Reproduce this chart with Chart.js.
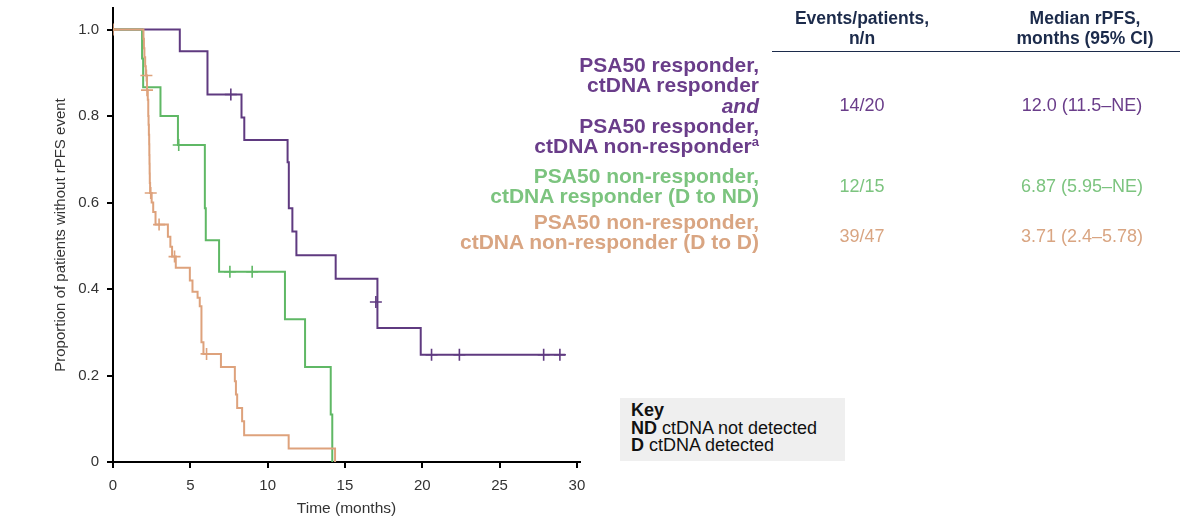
<!DOCTYPE html>
<html>
<head>
<meta charset="utf-8">
<script src="https://cdn.jsdelivr.net/npm/chart.js@4/dist/chart.umd.min.js"></script>
<style>
  html, body { margin: 0; padding: 0; background: #fff; }
  #wrap { position: relative; width: 1200px; height: 520px; overflow: hidden; font-family: "Liberation Sans", Arial, sans-serif; }
  #c { position: absolute; left: 0; top: 0; }
  .abs { position: absolute; white-space: nowrap; }
  .lab { right: 441px; text-align: right; font-weight: bold; font-size: 21px; line-height: 20.3px; }
  .hdr { font-weight: bold; font-size: 17.5px; line-height: 20px; color: #1c2b4b; text-align: center; transform: translateX(-50%); }
  .val { font-size: 18px; line-height: 20px; text-align: center; transform: translate(-50%, -50%); }
  .purple { color: #6a3d8a; }
  .green { color: #7cc47f; }
  .orange { color: #d9a582; }
  #key { left: 620px; top: 398px; width: 214px; height: 59px; background: #efefef; padding: 4px 0 0 11px; font-size: 18px; line-height: 17.5px; color: #111; }
</style>
</head>
<body>
<div id="wrap">
  <canvas id="c" width="1200" height="520"></canvas>

  <div class="abs hdr" style="left:862px; top:8px;">Events/patients,<br>n/n</div>
  <div class="abs hdr" style="left:1085px; top:8px;">Median rPFS,<br>months (95% CI)</div>
  <div class="abs" style="left:772px; top:51px; width:408px; height:0; border-top:1.5px solid #1c2b4b;"></div>

  <div class="abs lab purple" style="top:55px;">PSA50 responder,<br>ctDNA responder<br><i>and</i><br>PSA50 responder,<br>ctDNA non-responder<sup style="font-size:13px; vertical-align: 7px; line-height:0;">a</sup></div>
  <div class="abs lab green" style="top:166px;">PSA50 non-responder,<br>ctDNA responder (D to ND)</div>
  <div class="abs lab orange" style="top:212px;">PSA50 non-responder,<br>ctDNA non-responder (D to D)</div>

  <div class="abs val purple" style="left:862px; top:105px;">14/20</div>
  <div class="abs val purple" style="left:1082px; top:105px;">12.0 (11.5–NE)</div>
  <div class="abs val green" style="left:862px; top:186px;">12/15</div>
  <div class="abs val green" style="left:1082px; top:186px;">6.87 (5.95–NE)</div>
  <div class="abs val orange" style="left:862px; top:236px;">39/47</div>
  <div class="abs val orange" style="left:1082px; top:236px;">3.71 (2.4–5.78)</div>

  <div id="key" class="abs"><b>Key</b><br><b>ND</b> ctDNA not detected<br><b>D</b> ctDNA detected</div>
</div>
<script>
// ---- Data (Kaplan–Meier step curves) ----
const xTicks = [0, 5, 10, 15, 20, 25, 30];
const yTicks = [0, 0.2, 0.4, 0.6, 0.8, 1.0];

// Purple: PSA50 responder (ctDNA responder and non-responder)
const purpleTimes = [0, 4.32, 6.11, 8.31, 8.49, 11.29, 11.37, 11.6, 11.86, 14.4, 17.1, 19.9, 29.25];
const purpleSurv  = [1.0, 0.95, 0.85, 0.797, 0.745, 0.693, 0.587, 0.533, 0.478, 0.424, 0.31, 0.248, 0.248];
const purpleCensorTimes = [7.62, 17.0, 20.6, 22.4, 27.85, 28.9];
const purpleCensorSurv  = [0.85, 0.37, 0.248, 0.248, 0.248, 0.248];

// Green: PSA50 non-responder, ctDNA responder (D to ND)
const greenTimes = [0, 1.88, 1.95, 3.07, 4.2, 5.94, 6.0, 6.86, 11.12, 12.42, 14.08, 14.18];
const greenSurv  = [1.0, 0.933, 0.867, 0.8, 0.733, 0.587, 0.513, 0.44, 0.33, 0.22, 0.11, 0];
const greenCensorTimes = [4.25, 7.56, 9.0];
const greenCensorSurv  = [0.733, 0.44, 0.44];

// Orange: PSA50 non-responder, ctDNA non-responder (D to D)
const orangeTimes = [0, 1.97, 2.0, 2.03, 2.08, 2.12, 2.2, 2.25, 2.28, 2.3, 2.32, 2.34, 2.35, 2.36, 2.37, 2.38, 2.4, 2.5, 2.6, 2.75, 3.55, 3.71, 3.82, 4.06, 4.97, 5.14, 5.47, 5.61, 5.72, 5.85, 6.98, 7.88, 7.95, 8.03, 8.35, 8.48, 11.36, 14.36];
const orangeSurv  = [1.0, 0.979, 0.957, 0.936, 0.915, 0.894, 0.86, 0.838, 0.8, 0.78, 0.757, 0.735, 0.71, 0.69, 0.667, 0.645, 0.622, 0.6, 0.578, 0.549, 0.521, 0.498, 0.475, 0.449, 0.42, 0.394, 0.38, 0.36, 0.277, 0.25, 0.22, 0.187, 0.156, 0.125, 0.094, 0.062, 0.031, 0];
const orangeCensorTimes = [0, 2.16, 2.2, 2.44, 2.98, 3.98, 6.05];
const orangeCensorSurv  = [1.0, 0.894, 0.86, 0.622, 0.549, 0.475, 0.25];

const PURPLE = '#5f3a80';
const GREEN = '#5fb865';
const ORANGE = '#dea27c';

function pts(xs, ys) { return xs.map((x, i) => ({ x: x, y: ys[i] })); }

function curve(xs, ys, color) {
  return { type: 'line', data: pts(xs, ys), borderColor: color, borderWidth: 2, stepped: 'before',
           pointRadius: 0, fill: false, tension: 0 };
}
function censor(xs, ys, color) {
  return { type: 'scatter', data: pts(xs, ys), borderColor: color, backgroundColor: color,
           pointStyle: 'cross', pointRadius: 6, borderWidth: 1.6, showLine: false };
}

const FONT = '"Liberation Sans", Arial, sans-serif';

new Chart(document.getElementById('c'), {
  data: {
    datasets: [
      curve(orangeTimes, orangeSurv, ORANGE),
      censor(orangeCensorTimes, orangeCensorSurv, ORANGE),
      curve(greenTimes, greenSurv, GREEN),
      censor(greenCensorTimes, greenCensorSurv, GREEN),
      curve(purpleTimes, purpleSurv, PURPLE),
      censor(purpleCensorTimes, purpleCensorSurv, PURPLE)
    ]
  },
  options: {
    responsive: false,
    animation: false,
    devicePixelRatio: 1,
    layout: { padding: { left: 0, top: 8, right: 620, bottom: 0 } },
    plugins: { legend: { display: false }, tooltip: { enabled: false } },
    scales: {
      x: {
        type: 'linear', min: 0, max: 30.2,
        afterFit: (s) => { s.height = 58; s.paddingLeft = 0; s.paddingRight = 0; },
        afterBuildTicks: (s) => { s.ticks = xTicks.map(v => ({ value: v })); },
        ticks: { padding: 9, color: '#333', font: { family: FONT, size: 15 }, callback: (v) => String(v) },
        grid: { display: true, drawOnChartArea: false, drawTicks: true, tickLength: 6, color: '#000', lineWidth: 2 },
        border: { display: true, color: '#000', width: 2 },
        title: { display: true, text: 'Time (months)', color: '#333', font: { family: FONT, size: 15.5 }, padding: { top: 2, bottom: 2 } }
      },
      y: {
        type: 'linear', min: 0, max: 1.05,
        afterFit: (s) => { s.width = 113; s.paddingTop = 0; s.paddingBottom = 0; },
        afterBuildTicks: (s) => { s.ticks = yTicks.map(v => ({ value: v })); },
        ticks: { padding: 8, color: '#333', font: { family: FONT, size: 15 }, callback: (v) => v === 0 ? '0' : v.toFixed(1) },
        grid: { display: true, drawOnChartArea: false, drawTicks: true, tickLength: 6, color: '#000', lineWidth: 2 },
        border: { display: true, color: '#000', width: 2 },
        title: { display: true, text: 'Proportion of patients without rPFS event', color: '#333', font: { family: FONT, size: 15 }, padding: { top: 52, bottom: 4 } }
      }
    }
  }
});
</script>
</body>
</html>
